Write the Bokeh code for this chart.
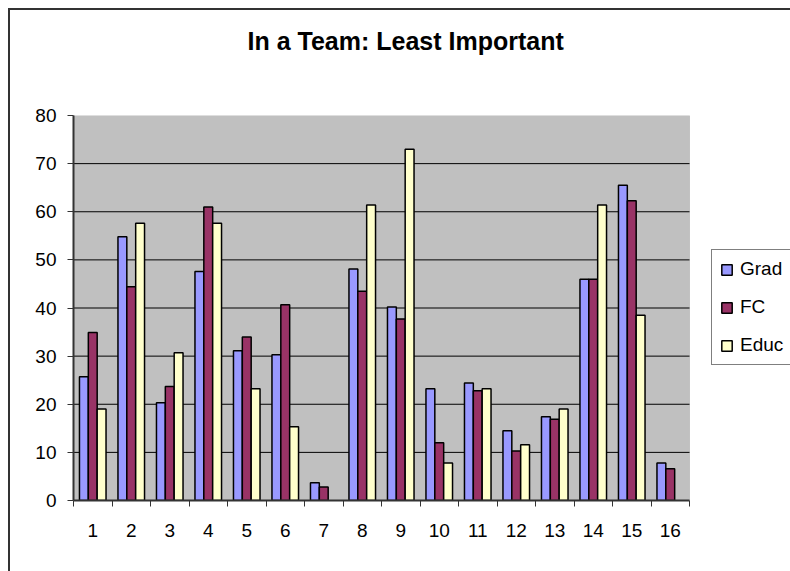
import numpy as np
from bokeh.plotting import figure
from bokeh.models import (Range1d, FixedTicker, Legend, LegendItem, Title,
                          ColumnDataSource, BoxAnnotation)
from bokeh.transform import dodge
from bokeh.embed import file_html
from bokeh.resources import INLINE

# ---- data ----
categories = ["1", "2", "3", "4", "5", "6", "7", "8",
              "9", "10", "11", "12", "13", "14", "15", "16"]
grad = [25.7, 54.8, 20.3, 47.6, 31.1, 30.3, 3.7, 48.1,
        40.2, 23.2, 24.4, 14.5, 17.4, 46.0, 65.5, 7.8]
fc = [34.9, 44.4, 23.7, 61.0, 34.0, 40.7, 2.8, 43.5,
      37.7, 12.0, 22.8, 10.3, 16.9, 46.0, 62.3, 6.6]
educ = [19.0, 57.6, 30.7, 57.6, 23.2, 15.3, None, 61.4,
        73.0, 7.8, 23.2, 11.6, 19.0, 61.4, 38.5, None]
series_names = ["Grad", "FC", "Educ"]
series_colors = ["#9999FF", "#993366", "#FFFFCC"]
y_ticks = [0, 10, 20, 30, 40, 50, 60, 70, 80]
title_text = "In a Team: Least Important"

# ---- layout constants (pixels) ----
W, H = 790, 571
LEFT, TOP, BOTTOM = 73, 115, 71
PLOT_W = 616                      # width of the grey plot area
FRAME_W = W - LEFT                # frame runs to the right edge (legend lives there)

n = len(categories)
pos = [i + 1 for i in range(n)]
x_lo = 0.5
x_hi = n + 0.5
x_end = x_lo + n * FRAME_W / PLOT_W

source = ColumnDataSource(dict(
    x=pos,
    Grad=np.array(grad, dtype=float),
    FC=np.array(fc, dtype=float),
    Educ=np.array(educ, dtype=float),
))

FONT = "Liberation Sans"

p = figure(width=W, height=H, output_backend="svg", toolbar_location=None,
           x_range=Range1d(x_lo, x_end),
           y_range=Range1d(y_ticks[0], y_ticks[-1]),
           min_border_left=LEFT, min_border_right=0,
           min_border_top=TOP, min_border_bottom=BOTTOM)
p.title.visible = False
# spacer (closest to the frame) then the real title above it
spacer = Title(text=" ", text_font_size="10px", standoff=43, text_color="white")
p.add_layout(spacer, "above")
main_title = Title(text=title_text, align="left", offset=174, standoff=10,
                   text_font=FONT, text_font_size="25px",
                   text_font_style="bold", text_color="black")
p.add_layout(main_title, "above")

# outer chart border (left and top edges visible) painted behind a transparent canvas
p.styles = {"background": "linear-gradient(#333333,#333333) 8px 8px / 2px 100% no-repeat, "
                          "linear-gradient(#333333,#333333) 8px 8px / 100% 2px no-repeat, white"}
p.border_fill_alpha = 0
p.background_fill_alpha = 0
p.outline_line_color = None

# grey plot area
area = BoxAnnotation(left=x_lo, right=x_hi, bottom=y_ticks[0], top=y_ticks[-1],
                     fill_color="#C0C0C0", fill_alpha=1,
                     line_color="#808080", line_width=1, level="image")
p.add_layout(area)

# horizontal grid lines limited to the plot area
p.xgrid.grid_line_color = None
p.ygrid.grid_line_color = None
grid_y = y_ticks[1:-1]
p.segment(x0=[x_lo] * len(grid_y), x1=[x_hi] * len(grid_y), y0=grid_y, y1=grid_y,
          line_color="black", line_width=1)

bw = 0.23
offsets = [-bw, 0.0, bw]
renderers = []
for name, col, off in zip(series_names, series_colors, offsets):
    r = p.vbar(x=dodge("x", off, range=p.x_range), top=name, bottom=0,
               width=bw, source=source, fill_color=col,
               line_color="black", line_width=1.5)
    renderers.append(r)

# y axis
yax = p.yaxis[0]
yax.ticker = FixedTicker(ticks=y_ticks)
yax.axis_line_color = "#333333"
yax.axis_line_width = 2
yax.major_tick_in = 0
yax.major_tick_out = 6
yax.major_tick_line_color = "#333333"
yax.minor_tick_line_color = None
yax.major_label_text_font = FONT
yax.major_label_text_font_size = "19px"
yax.major_label_text_color = "black"
yax.major_label_standoff = 11

# x axis: labels at centers, tick marks at boundaries
xax = p.xaxis[0]
xax.bounds = (x_lo, x_hi)
xax.ticker = FixedTicker(ticks=pos,
                         minor_ticks=[x - 0.5 for x in pos] + [x_hi])
xax.major_label_overrides = {x: c for x, c in zip(pos, categories)}
xax.axis_line_color = "#333333"
xax.axis_line_width = 2
xax.major_tick_in = 0
xax.major_tick_out = 0
xax.minor_tick_in = 0
xax.minor_tick_out = 6
xax.minor_tick_line_color = "#333333"
xax.minor_tick_line_width = 1
xax.major_label_text_font = FONT
xax.major_label_text_font_size = "19px"
xax.major_label_text_color = "black"
xax.major_label_standoff = 17

# legend, inside the (wide) frame to the right of the grey area
items = [LegendItem(label=nm, renderers=[r]) for nm, r in zip(series_names, renderers)]
legend = Legend(items=items, location=(711 - LEFT, 135), orientation="vertical")
legend.margin = 0
legend.padding = 8
legend.spacing = 16
legend.glyph_width = 13
legend.glyph_height = 13
legend.label_height = 20
legend.label_width = 52
legend.label_standoff = 7
legend.label_text_font = FONT
legend.label_text_font_size = "19px"
legend.label_text_color = "black"
legend.border_line_color = "black"
legend.border_line_width = 1
legend.background_fill_color = "white"
legend.background_fill_alpha = 1
p.add_layout(legend, "center")

open("out.html", "w").write(file_html(p, INLINE))
